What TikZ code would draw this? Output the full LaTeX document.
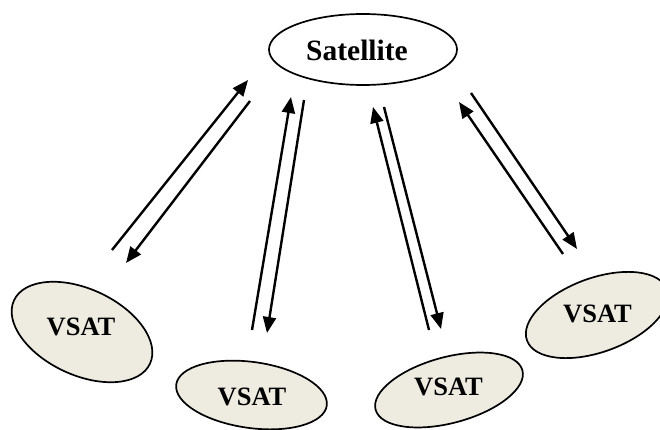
\documentclass[tikz,border=0pt]{standalone}
\usepackage{fontspec}
\setmainfont{Liberation Serif}
\usetikzlibrary{arrows.meta,shapes.geometric}
\definecolor{vsatfill}{HTML}{EEECE1}
\tikzset{
  sat/.style={ellipse,draw=black,line width=1.7pt,fill=white,minimum width=188pt,minimum height=71pt,inner sep=0pt},
  vsat/.style={ellipse,draw=black,line width=1.7pt,fill=vsatfill,inner sep=0pt},
  satfont/.style={font=\fontsize{29.5}{30}\selectfont\bfseries},
  vsatfont/.style={font=\fontsize{26.5}{28}\selectfont\bfseries},
  link/.style={line width=2.4pt,-{Triangle[length=16pt,width=13pt]}}
}
\begin{document}
\begin{tikzpicture}[x=1pt,y=-1pt]
\useasboundingbox (0,0) rectangle (660,430);
\node[sat] (sat) at (363,49.5) {};
\node[satfont] (satlbl) at (357,50) {Satellite};
\node[vsat,minimum width=150pt,minimum height=86pt,rotate=-25] (v1) at (82,332) {};
\node[vsatfont] (v1l) at (81,327) {VSAT};
\node[vsat,minimum width=152pt,minimum height=66pt,rotate=-8] (v2) at (251.5,395) {};
\node[vsatfont] (v2l) at (252,397) {VSAT};
\node[vsat,minimum width=152pt,minimum height=66pt,rotate=15] (v3) at (449,390) {};
\node[vsatfont] (v3l) at (448.5,387) {VSAT};
\node[vsat,minimum width=149pt,minimum height=74pt,rotate=20] (v4) at (597,315) {};
\node[vsatfont] (v4l) at (597.5,314) {VSAT};
% arrow end points
\coordinate (a1s) at (112,250); \coordinate (a1e) at (248,80);
\coordinate (b1s) at (250,101); \coordinate (b1e) at (126,263);
\coordinate (a2s) at (252,330); \coordinate (a2e) at (291,97);
\coordinate (b2s) at (304,100); \coordinate (b2e) at (267,333);
\coordinate (a3s) at (429,330); \coordinate (a3e) at (373,107);
\coordinate (b3s) at (384,107); \coordinate (b3e) at (441,329);
\coordinate (a4s) at (563,254); \coordinate (a4e) at (459,102);
\coordinate (b4s) at (471,93);  \coordinate (b4e) at (577,249);
\draw[link] (a1s) -- (a1e);
\draw[link] (b1s) -- (b1e);
\draw[link] (a2s) -- (a2e);
\draw[link] (b2s) -- (b2e);
\draw[link] (a3s) -- (a3e);
\draw[link] (b3s) -- (b3e);
\draw[link] (a4s) -- (a4e);
\draw[link] (b4s) -- (b4e);
\end{tikzpicture}
\end{document}
